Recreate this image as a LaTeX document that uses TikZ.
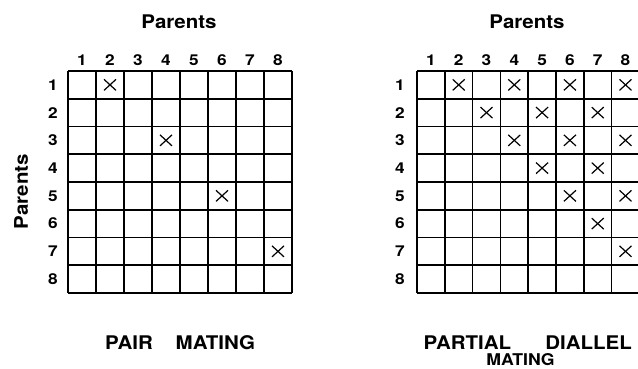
\documentclass[tikz,border=0pt]{standalone}
\usepackage{fontspec}
\setmainfont{TeX Gyre Heros}
\newfontfamily\labfont[FakeStretch=1.15]{TeX Gyre Heros}
\newfontfamily\bigfont[FakeStretch=1.09]{TeX Gyre Heros}
\usetikzlibrary{calc}
\begin{document}
\begin{tikzpicture}[x=1pt,y=-1pt,
  gridline/.style={line width=1.7pt},
  xmark/.style={line width=1.2pt},
  lab/.style={font=\labfont\fontsize{15}{15}\selectfont\bfseries, inner sep=0pt},
  ttl/.style={font=\bigfont\fontsize{18.8}{18.8}\selectfont\bfseries, inner sep=0pt},
  captxt/.style={font=\bigfont\fontsize{18.8}{18.8}\selectfont\bfseries, inner sep=0pt},
  smallcap/.style={font=\bigfont\fontsize{16.2}{16.2}\selectfont\bfseries, inner sep=0pt}]
\useasboundingbox (0,0) rectangle (638,368);
\clip (0,0) rectangle (638,368);
% ---------- left grid ----------
\foreach \i in {0,...,8} {
  \draw[gridline] (68+\i*28,71) -- (68+\i*28,293);
  \draw[gridline] (68,71+\i*27.75) -- (292,71+\i*27.75);
}
\foreach \i in {1,...,8} {
  \node[lab] (lc\i) at (68+\i*28-14,60) {\i};
  \node[lab] (lr\i) at (53,71+\i*27.75-13.9) {\i};
}
\foreach \r/\c in {1/2,3/4,5/6,7/8} {
  \coordinate (lx\r\c) at (68+\c*28-14,71+\r*27.75-13.9);
  \draw[xmark] ($(lx\r\c)+(-6,-5.5)$) -- ($(lx\r\c)+(6,5.5)$);
  \draw[xmark] ($(lx\r\c)+(-6,5.5)$) -- ($(lx\r\c)+(6,-5.5)$);
}
\node[ttl] (ltitle) at (179,22) {Parents};
\node[ttl, rotate=90] (lside) at (21,191.5) {Parents};
\node[captxt, anchor=west] (pair) at (105,342.5) {PAIR};
\node[captxt, anchor=west] (mating1) at (175.5,342.5) {MATING};
% ---------- right grid ----------
\foreach \i in {0,...,8} {
  \draw[gridline] (417+\i*27.8,71) -- (417+\i*27.8,293);
  \draw[gridline] (417,71+\i*27.75) -- (640,71+\i*27.75);
}
\foreach \i in {1,...,8} {
  \node[lab] (rc\i) at (417+\i*27.8-13.9,60) {\i};
  \node[lab] (rr\i) at (400,71+\i*27.75-13.9) {\i};
}
\foreach \r/\c in {1/2,1/4,1/6,1/8,2/3,2/5,2/7,3/4,3/6,3/8,4/5,4/7,5/6,5/8,6/7,7/8} {
  \coordinate (rx\r\c) at (417+\c*27.8-13.9,71+\r*27.75-13.9);
  \draw[xmark] ($(rx\r\c)+(-6,-5.5)$) -- ($(rx\r\c)+(6,5.5)$);
  \draw[xmark] ($(rx\r\c)+(-6,5.5)$) -- ($(rx\r\c)+(6,-5.5)$);
}
\node[ttl] (rtitle) at (527,22) {Parents};
\node[captxt, anchor=west] (partial) at (423.5,342.5) {PARTIAL};
\node[captxt, anchor=east] (diallel) at (632,342.5) {DIALLEL};
\node[smallcap] (mating2) at (520.5,360) {MATING};
\end{tikzpicture}
\end{document}
